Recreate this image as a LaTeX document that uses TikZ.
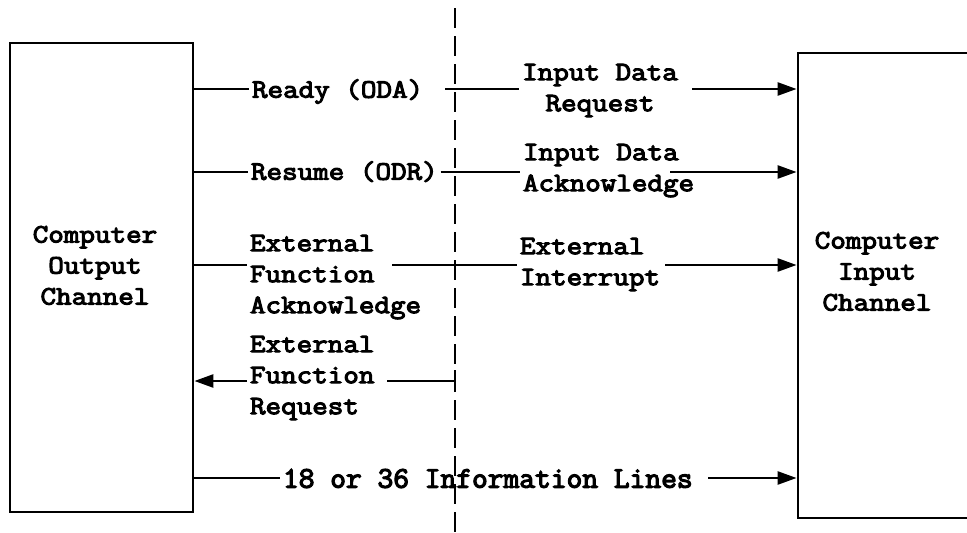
\documentclass[tikz,border=0pt]{standalone}
\usepackage{fontspec}
\newfontfamily\typer{Latin Modern Mono}[FakeBold=4,FakeStretch=1.14]
\newfontfamily\typerwide{Latin Modern Mono}[FakeBold=4,FakeStretch=1.02]
\usetikzlibrary{arrows.meta}
\begin{document}
\begin{tikzpicture}[x=1pt,y=-1pt,
  wire/.style={line width=2.5pt},
  sig/.style={wire,-{Triangle[length=19pt,width=13pt]}},
  lbl/.style={inner sep=0pt,outer sep=3pt,font=\typer\fontsize{26.5}{31}\selectfont,
              execute at begin node=\strut},
  chan/.style={draw,line width=2.8pt,inner sep=0pt}]
\useasboundingbox (0,0) rectangle (967,533);
\clip (0,0) rectangle (967,533);

% channel boxes (the input channel runs off the right edge)
\node[chan,minimum width=183pt,minimum height=469pt] (out) at (101.5,277.5) {};
\node[chan,minimum width=220pt,minimum height=465pt] (in) at (908,285.5) {};
\node[lbl,align=center,anchor=north] (outlbl) at (95,223) {Computer\\Output\\Channel};
\node[lbl,align=center,anchor=north] (inlbl) at (877,229) {Computer\\Input\\Channel};

% interface boundary
\draw[line width=2pt,dash pattern=on 20pt off 8pt] (455,8) -- (455,533);

% row reference points on the boundary
\coordinate (r1) at (455,89);
\coordinate (r2) at (455,172);
\coordinate (r3) at (455,265);
\coordinate (r4) at (455,381);
\coordinate (r5) at (455,478);

% labels
\node[lbl,anchor=north west] (t1) at (249,73) {Ready (ODA)};
\node[lbl,align=center,anchor=north] (u1) at (600,61) {Input Data\\Request};
\node[lbl,anchor=north west] (t2) at (248,155) {Resume (ODR)};
\node[lbl,align=left,anchor=north west] (u2) at (520,141) {Input Data\\Acknowledge};
\node[lbl,align=left,anchor=north west] (t3) at (247,232) {External\\Function\\Acknowledge};
\node[lbl,align=left,anchor=north west] (u3) at (517,235) {External\\Interrupt};
\node[lbl,align=left,anchor=north west] (t4) at (247,333) {External\\Function\\Request};
\node[lbl,anchor=north west,font=\typerwide\fontsize{30}{31}\selectfont] (t5) at (280,463)
  {18 or 36 Information Lines};

% free ends of the wire segments
\coordinate (a1) at (445,89);
\coordinate (b1) at (692,89);
\coordinate (b2) at (670,172);
\coordinate (a3) at (392,265);
\coordinate (b3) at (665,265);
\coordinate (a4) at (387,381);
\coordinate (b5) at (708,478);

% Ready / Input Data Request
\draw[wire] (out.east |- r1) -- (t1.west |- r1);
\draw[wire] (a1) -- (u1.west |- r1);
\draw[sig] (b1) -- (in.west |- r1);

% Resume / Input Data Acknowledge
\draw[wire] (out.east |- r2) -- (t2.west |- r2);
\draw[wire] (t2.east |- r2) -- (u2.west |- r2);
\draw[sig] (b2) -- (in.west |- r2);

% External Function Acknowledge / External Interrupt
\draw[wire] (out.east |- r3) -- (t3.west |- r3);
\draw[wire] (a3) -- (u3.west |- r3);
\draw[sig] (b3) -- (in.west |- r3);

% External Function Request
\draw[wire] (a4) -- (r4);
\draw[wire] ([yshift=-11pt]r4) -- ([yshift=11pt]r4);
\draw[sig] (t4.west |- r4) -- (out.east |- r4);

% information lines
\draw[wire] (out.east |- r5) -- (t5.west |- r5);
\draw[sig] (b5) -- (in.west |- r5);
\end{tikzpicture}
\end{document}
